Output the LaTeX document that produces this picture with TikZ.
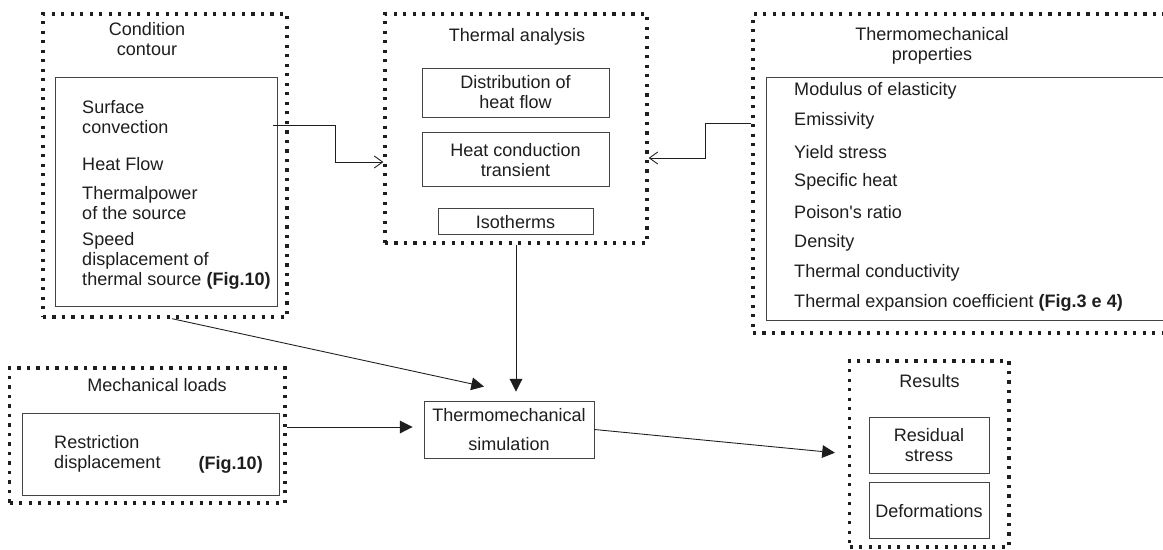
\documentclass[tikz,border=0pt]{standalone}
\usepackage{fontspec}
\setmainfont{Liberation Sans}[Ligatures=TeXOff]
\usepackage{tikz}
\usetikzlibrary{arrows.meta}
\usetikzlibrary{positioning}
\definecolor{tinta}{HTML}{1E1E1E}
\definecolor{traco}{HTML}{444444}
\tikzset{
  dotbox/.style={draw=tinta, line width=0.1cm, dash pattern=on 0.1cm off 0.185cm, inner sep=0pt},
  cell/.style={draw=traco, line width=0.75pt, align=center, inner sep=0pt, text=tinta},
  flow/.style={-{Triangle[length=0.38cm,width=0.38cm]}, line width=0.75pt, draw=tinta},
  inlet/.style={-{Straight Barb[length=0.25cm,width=0.36cm]}, line width=0.75pt, draw=tinta},
}

\begin{document}
\begin{tikzpicture}[x=0.03cm, y=-0.03cm,
  txt/.style={inner sep=0pt, align=left, text=tinta},
  font=\fontsize{15.4}{17}\selectfont]
  \useasboundingbox[fill=white] (0,0) rectangle (1163,549);

  % condition contour
  \node[dotbox, minimum width=7.32cm, minimum height=9.09cm] (cond) at (165,165.5) {};
  \node[cell, minimum width=6.66cm, minimum height=6.87cm] (condin) at (166,191.5) {};
  \node[txt, align=center] (condtit) at (147,39.5) {Condition\\contour};
  \node[txt, anchor=west] (c1) at (82,117) {Surface\\convection};
  \node[txt, anchor=west] (c2) at (82,164) {Heat Flow};
  \node[txt, anchor=west] (c3) at (82,203) {Thermalpower\\of the source};
  \node[txt, anchor=west] (c4) at (82,261) {Speed\\displacement of\\thermal source \textbf{(Fig.10)}};
  \coordinate (conv) at (273,125);

  % thermal analysis
  \node[dotbox, minimum width=7.86cm, minimum height=6.87cm] (therm) at (516,128.5) {};
  \node[txt] (thermtit) at (517,37) {Thermal analysis};
  \node[cell, minimum width=5.61cm, minimum height=1.47cm] (distrib) at (515.5,92.5) {Distribution of\\heat flow};
  \node[cell, minimum width=5.61cm, minimum height=1.62cm, below=0.45cm of distrib] (conduc) {Heat conduction\\transient};
  \node[cell, minimum width=4.65cm, minimum height=0.78cm, below=0.63cm of conduc] (iso) {Isotherms};

  % thermomechanical properties (runs past the right edge)
  \node[dotbox, minimum width=12.66cm, minimum height=9.57cm] (props) at (964,173.5) {};
  \node[cell, minimum width=12.12cm, minimum height=7.29cm] (propsin) at (968,198.5) {};
  \node[txt, align=center] (propstit) at (932,46) {Thermomechanical\\properties};
  \foreach \t [count=\i from 0] in {Modulus of elasticity, Emissivity, Yield stress, Specific heat,
      Poison's ratio, Density, Thermal conductivity, Thermal expansion coefficient \textbf{(Fig.3 e 4)}}
    \node[txt, anchor=west] (p\i) at (794,91+30.3*\i) {\t};

  % mechanical loads
  \node[dotbox, minimum width=8.26cm, minimum height=4.05cm] (mech) at (147.3,435.5) {};
  \node[cell, minimum width=7.71cm, minimum height=2.46cm] (mechin) at (150.5,454) {};
  \node[txt] (mechtit) at (157,385) {Mechanical loads};
  \node[txt, anchor=west] (restr) at (54,454) {Restriction\\displacement};
  \node[txt, anchor=east] (fig) at (263,465) {\textbf{(Fig.10)}};

  % simulation and results
  \node[cell, minimum width=5.1cm, minimum height=1.71cm] (sim) at (509,429.5) {Thermomechanical\\[8pt]simulation};
  \node[dotbox, minimum width=4.785cm, minimum height=5.58cm] (res) at (929.25,454) {};
  \node[txt] (restit) at (929.5,381) {Results};
  \node[cell, minimum width=3.6cm, minimum height=1.68cm] (resid) at (929,445) {Residual\\stress};
  \node[cell, minimum width=3.6cm, minimum height=1.68cm, below=0.27cm of resid] (deform) {Deformations};

  % connectors
  \draw[inlet] (conv) -| (335,162) -- (therm.west |- 0,162);
  \draw[inlet] (props.west |- 0,123) -| (705,158) -- (therm.east |- 0,158);
  \draw[flow, shorten >=0.27cm] (therm.south) -- (therm.south |- sim.north);
  \draw[flow] ([xshift=0.21cm]cond.south) -- ([xshift=-0.75cm, yshift=0.42cm]sim.north);
  \draw[flow, shorten >=0.33cm] ([yshift=0.255cm]mech.east) -- ([yshift=0.255cm]mech.east -| sim.west);
  \draw[flow, shorten >=0.39cm] (sim.east) -- (res.west);
\end{tikzpicture}
\end{document}
